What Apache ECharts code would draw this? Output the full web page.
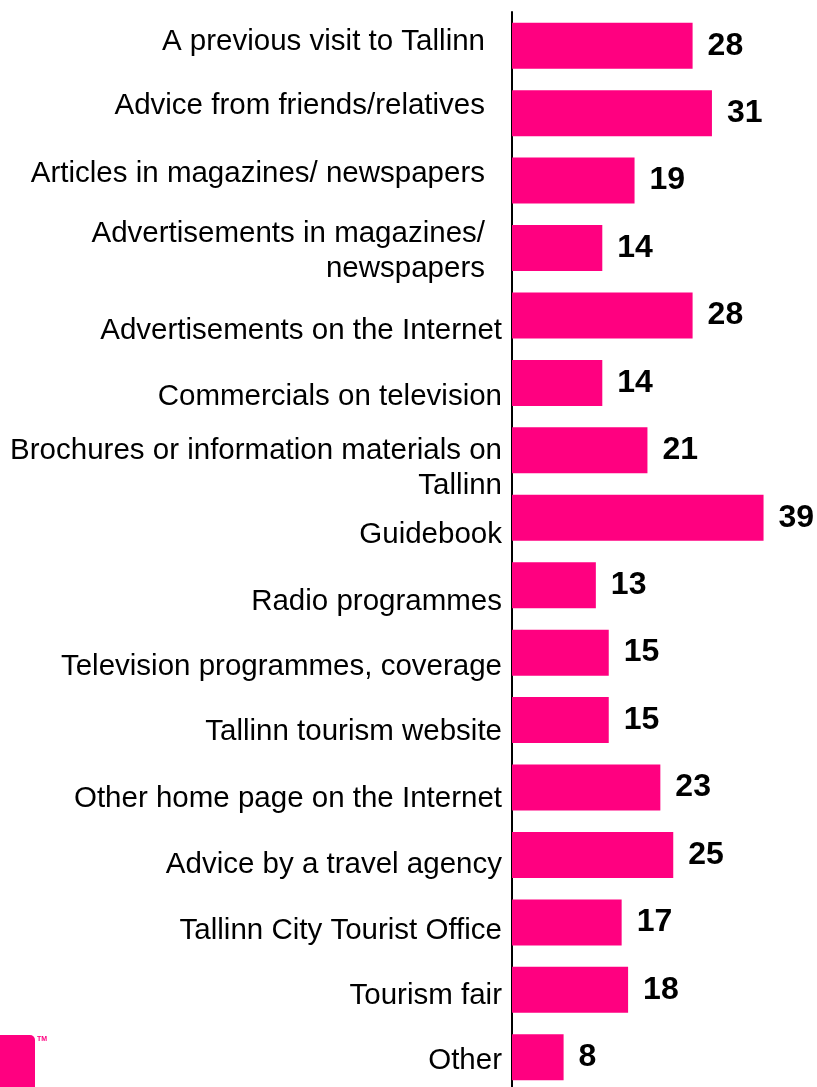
<!DOCTYPE html>
<html>
<head>
<meta charset="utf-8">
<script src="https://cdn.jsdelivr.net/npm/echarts@6/dist/echarts.min.js"></script>
<style>
  html, body { margin: 0; padding: 0; background: #ffffff; overflow: hidden; }
  /* The plot runs a few pixels past the bottom edge of the page */
  #chart { width: 817px; height: 1092px; }
</style>
</head>
<body>
<div id="chart"></div>
<script>
// Sources of information about Tallinn, share of respondents (%)
const categories = [
  'A previous visit to Tallinn',
  'Advice from friends/relatives',
  'Articles in magazines/ newspapers',
  'Advertisements in magazines/\nnewspapers',
  'Advertisements on the Internet',
  'Commercials on television',
  'Brochures or information materials on\nTallinn',
  'Guidebook',
  'Radio programmes',
  'Television programmes, coverage',
  'Tallinn tourism website',
  'Other home page on the Internet',
  'Advice by a travel agency',
  'Tallinn City Tourist Office',
  'Tourism fair',
  'Other'
];
const values = [28, 31, 19, 14, 28, 14, 21, 39, 13, 15, 15, 23, 25, 17, 18, 8];

// Per-label nudges of the category text: [vertical shift in px (+ = down), extra right gap in px]
const labelNudge = [
  [-4, 17], [-7, 17], [-7, 17], [3, 17],
  [15.5, 0], [13.5, 0], [18.5, 0], [17.5, 0],
  [16.5, 0], [14.5, 0], [12, 0], [11, 0],
  [10, 0], [8, 0], [6, 0], [3.5, 0]
];

const MAGENTA = '#ff0080';
const FONT = '"Liberation Sans", Arial, sans-serif';

// Right gap per label goes into the item's padding
const axisData = categories.map((name, i) => ({
  value: name,
  textStyle: { padding: [0, labelNudge[i][1], 0, 0] }
}));

// Rich styles: 't' for the text itself, 'g<i>' for an invisible spacer line
// that pushes the text of label i up or down.
const rich = {
  t: { color: '#000000', fontFamily: FONT, fontSize: 29.5, lineHeight: 35 }
};
labelNudge.forEach((n, i) => {
  rich['g' + i] = { fontSize: 1, lineHeight: Math.max(1, 2 * Math.abs(n[0])) };
});

function categoryLabel(value, index) {
  const text = String(value).split('\n').map(l => '{t|' + l + '}').join('\n');
  const dy = labelNudge[index] ? labelNudge[index][0] : 0;
  const spacer = '{g' + index + '| }';
  if (dy > 0) return spacer + '\n' + text;
  if (dy < 0) return text + '\n' + spacer;
  return text;
}

const chart = echarts.init(document.getElementById('chart'), null, { renderer: 'canvas' });

chart.setOption({
  animation: false,
  backgroundColor: '#ffffff',
  grid: { left: 512, right: 47, top: 12, height: 1079, containLabel: false },
  xAxis: {
    type: 'value',
    min: 0,
    max: 40,
    show: false
  },
  yAxis: {
    type: 'category',
    inverse: true,
    data: axisData,
    axisLine: { show: true, lineStyle: { color: '#000000', width: 2 } },
    axisTick: { show: false },
    splitLine: { show: false },
    axisLabel: {
      color: '#000000',
      fontFamily: FONT,
      fontSize: 29.5,
      lineHeight: 35,
      margin: 10,
      align: 'right',
      interval: 0,
      formatter: categoryLabel,
      rich: rich
    }
  },
  series: [{
    type: 'bar',
    data: values,
    barWidth: 46,
    itemStyle: { color: MAGENTA },
    label: {
      show: true,
      position: 'right',
      distance: 15,
      color: '#000000',
      fontFamily: FONT,
      fontSize: 32,
      fontWeight: 'bold'
    }
  }],
  graphic: [
    {
      type: 'rect',
      shape: { x: -10, y: 1035, width: 45, height: 70, r: 5 },
      style: { fill: MAGENTA }
    },
    {
      type: 'text',
      x: 37,
      y: 1036,
      style: { text: 'TM', fill: MAGENTA, fontSize: 7, fontWeight: 'bold', fontFamily: FONT }
    }
  ]
});
</script>
</body>
</html>
